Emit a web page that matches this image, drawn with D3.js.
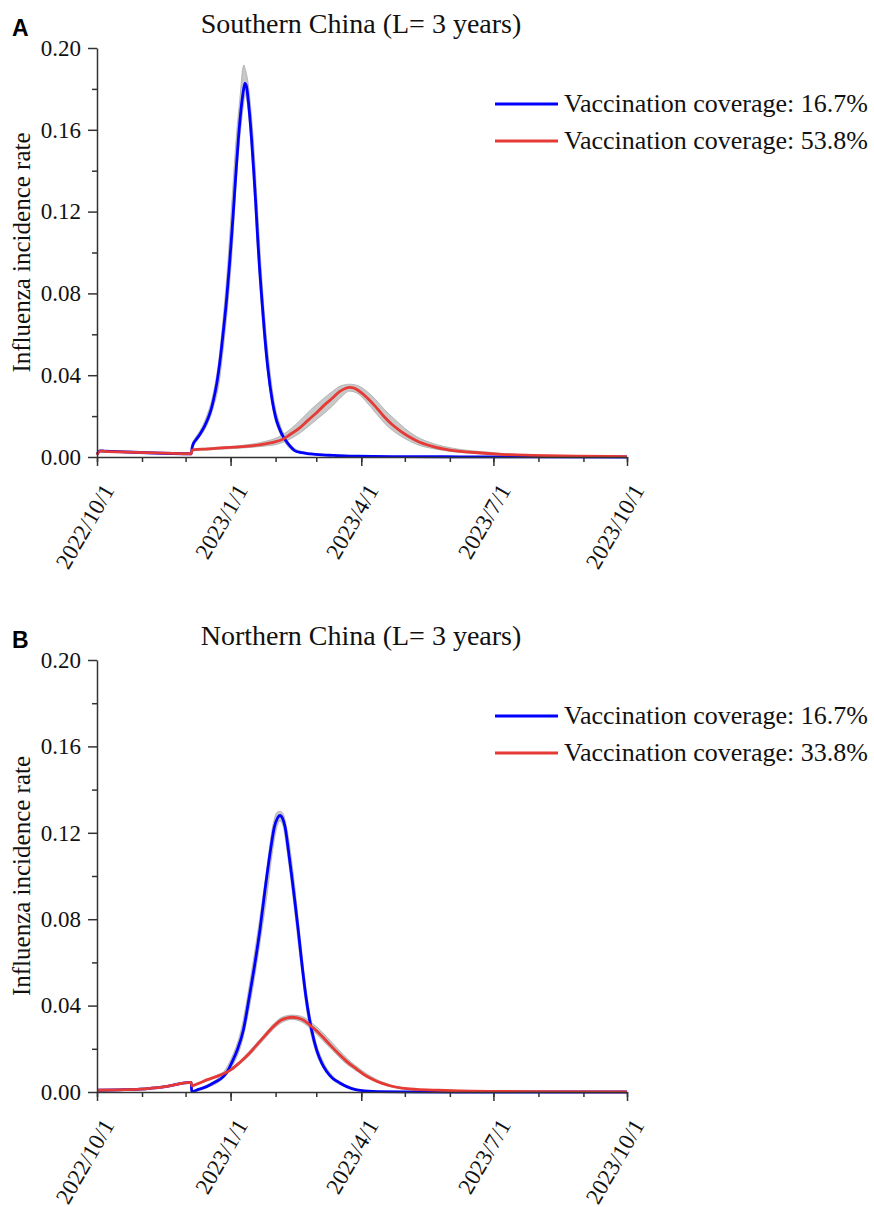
<!DOCTYPE html>
<html>
<head>
<meta charset="utf-8">
<script src="https://cdn.jsdelivr.net/npm/d3@7"></script>
<style>
  html, body { margin: 0; padding: 0; background: #fff; }
  svg { display: block; }
  svg text { font-family: "Liberation Serif", "Times New Roman", Times, serif !important; fill: #111; }
  svg text.letter { font-family: "Liberation Sans", Arial, sans-serif !important; font-weight: bold; fill: #000; }
</style>
</head>
<body>
<svg id="chart" width="874" height="1207"></svg>
<script>
// ---------------- DATA (days since 2022/10/1) ----------------
const xTickLabels = ["2022/10/1", "2023/1/1", "2023/4/1", "2023/7/1", "2023/10/1"];
const yTicks = [0.00, 0.04, 0.08, 0.12, 0.16, 0.20];
const yMinorTicks = [0.02, 0.06, 0.10, 0.14, 0.18];

// Panel A - Southern China
const titleA = "Southern China (L= 3 years)";
const legendA = ["Vaccination coverage: 16.7%", "Vaccination coverage: 53.8%"];
const daysBlueA = [0, 2, 5, 30, 64.9, 65.5, 66.5, 67.5, 69, 71, 74, 76.7, 78.5, 80.1, 82.5, 84.7, 87, 89.3, 91.1, 92.8, 93.9, 95.5, 97.3, 99.5, 101, 101.9, 103, 104.5, 106.5, 108, 109.2, 110.5, 111.9, 113.6, 115.4, 117.6, 120.7, 123.1, 125, 127.2, 131.7, 136.4, 141, 146.7, 155, 162.5, 180, 208, 250, 300, 365];
const blueA = [0.0013, 0.0030, 0.0029, 0.0022, 0.0016, 0.0045, 0.0068, 0.0078, 0.0092, 0.0113, 0.0150, 0.0193, 0.0230, 0.0275, 0.0360, 0.0470, 0.0615, 0.0775, 0.0928, 0.109, 0.1200, 0.1370, 0.155, 0.172, 0.180, 0.1827, 0.181, 0.172, 0.155, 0.139, 0.1255, 0.109, 0.0928, 0.0765, 0.0603, 0.0438, 0.0275, 0.0193, 0.0150, 0.0113, 0.0064, 0.0030, 0.0021, 0.0015, 0.0010, 0.0008, 0.0004, 0.0002, 0.0001, 0.00005, 0];
const daysBlueBandA = [66, 68, 71, 75, 80, 84, 87, 90, 93, 96, 98.5, 100.5, 101.2, 102, 104, 106, 108, 110.5, 113, 116, 119, 122, 126, 130, 136, 145, 160, 200];
const blueUpperA = [0.0075, 0.0098, 0.0130, 0.0190, 0.031, 0.048, 0.069, 0.094, 0.126, 0.157, 0.176, 0.1905, 0.1917, 0.190, 0.183, 0.170, 0.152, 0.122, 0.093, 0.064, 0.043, 0.027, 0.016, 0.0095, 0.0042, 0.0022, 0.0012, 0.0004];
const blueLowerA = [0.0050, 0.0072, 0.0100, 0.0145, 0.024, 0.036, 0.053, 0.074, 0.100, 0.135, 0.157, 0.170, 0.174, 0.177, 0.170, 0.153, 0.132, 0.101, 0.075, 0.050, 0.033, 0.020, 0.0115, 0.0065, 0.0027, 0.0014, 0.0007, 0.0002];

const daysRedA = [0, 1, 2.5, 5, 20, 40, 64.9, 65.5, 67, 75, 83, 95, 106, 115, 122, 128, 133, 140, 145, 151, 156, 162, 167, 171, 174, 177, 180, 186, 192, 197, 203, 209, 215, 220, 231, 243, 260, 278, 300, 330, 365];
const redA = [0.0010, 0.0022, 0.0029, 0.0028, 0.0024, 0.0020, 0.0016, 0.0034, 0.0036, 0.0039, 0.0043, 0.0048, 0.0054, 0.0063, 0.0073, 0.0087, 0.0110, 0.0145, 0.0178, 0.0215, 0.0250, 0.0287, 0.0320, 0.0335, 0.0340, 0.0337, 0.0325, 0.0290, 0.0245, 0.0203, 0.0160, 0.0127, 0.0099, 0.0080, 0.0052, 0.0034, 0.0022, 0.0013, 0.0008, 0.0004, 0.0002];
const daysRedBandA = [65.5, 80, 100, 115, 125, 133, 140, 147, 155, 162, 168, 174, 180, 186, 192, 198, 205, 212, 220, 232, 245, 265, 290];
const redUpperA = [0.0038, 0.0046, 0.0057, 0.0075, 0.0098, 0.0135, 0.0180, 0.0230, 0.0280, 0.0320, 0.0348, 0.0356, 0.0348, 0.0320, 0.0280, 0.0232, 0.0185, 0.0140, 0.0100, 0.0065, 0.0043, 0.0026, 0.0013];
const redLowerA = [0.0030, 0.0036, 0.0044, 0.0053, 0.0064, 0.0088, 0.0118, 0.0158, 0.0205, 0.0248, 0.0292, 0.0322, 0.0308, 0.0265, 0.0215, 0.0165, 0.0122, 0.0090, 0.0062, 0.0040, 0.0026, 0.0015, 0.0007];

// Panel B - Northern China
const titleB = "Northern China (L= 3 years)";
const legendB = ["Vaccination coverage: 16.7%", "Vaccination coverage: 33.8%"];
const daysBlueB = [0, 15, 29.6, 47, 64.9, 65.2, 70, 75.5, 81, 87, 90.4, 92.7, 96.6, 100.8, 104.9, 108.8, 112.3, 115.7, 119.6, 122.1, 124.3, 126, 127.7, 129.5, 131.8, 134, 136.4, 138.6, 141, 143.9, 147.8, 151.3, 154.8, 158.2, 162, 167.3, 172, 178.8, 190, 210, 250, 365];
const blueB = [0.0008, 0.0010, 0.0013, 0.0025, 0.0045, 0.0002, 0.0012, 0.0025, 0.0045, 0.0071, 0.0102, 0.0134, 0.0194, 0.0287, 0.0441, 0.0597, 0.0755, 0.0935, 0.1125, 0.1225, 0.1268, 0.128, 0.1268, 0.1228, 0.112, 0.1005, 0.0875, 0.0748, 0.0600, 0.0441, 0.0287, 0.0194, 0.0134, 0.0095, 0.0065, 0.0042, 0.0025, 0.0010, 0.0003, 0.0001, 0, 0];
const daysBlueBandB = [66, 75, 85, 92, 100, 106, 112, 117, 121, 124, 126, 128, 131, 135, 140, 145, 150, 156, 163, 172, 185];
const blueUpperB = [0.0006, 0.0030, 0.0075, 0.0148, 0.031, 0.054, 0.080, 0.104, 0.123, 0.1295, 0.1300, 0.129, 0.121, 0.102, 0.071, 0.043, 0.025, 0.0138, 0.0070, 0.0030, 0.0007];
const blueLowerB = [0.0003, 0.0020, 0.0052, 0.0106, 0.0235, 0.043, 0.068, 0.091, 0.112, 0.123, 0.1255, 0.1235, 0.111, 0.090, 0.061, 0.035, 0.020, 0.0108, 0.0053, 0.0021, 0.0004];

const daysRedB = [0, 15, 29.6, 47, 64.9, 65.3, 70, 75.5, 84, 91.6, 98, 104, 109, 114.5, 121, 127, 131, 134.4, 138, 142, 149, 155, 160.5, 167.3, 171.9, 178.8, 184, 190, 196, 201.8, 210, 220, 235, 250, 275, 300, 365];
const redB = [0.0008, 0.0010, 0.0013, 0.0025, 0.0045, 0.0028, 0.0040, 0.0056, 0.0076, 0.0100, 0.0135, 0.0172, 0.0210, 0.0252, 0.0300, 0.0333, 0.0343, 0.0346, 0.0343, 0.0333, 0.0296, 0.0258, 0.0218, 0.0171, 0.0142, 0.0106, 0.0080, 0.0058, 0.0041, 0.0029, 0.0018, 0.0012, 0.0008, 0.0005, 0.0003, 0.0002, 0.0001];
const daysRedBandB = [65.3, 80, 95, 105, 115, 122, 128, 134.4, 141, 148, 155, 162, 170, 180, 192, 205, 220];
const redUpperB = [0.0030, 0.0070, 0.0123, 0.0190, 0.0265, 0.0318, 0.0348, 0.0356, 0.0350, 0.0320, 0.0278, 0.0228, 0.0170, 0.0112, 0.0060, 0.0027, 0.0014];
const redLowerB = [0.0026, 0.0062, 0.0111, 0.0170, 0.0243, 0.0294, 0.0324, 0.0336, 0.0324, 0.0288, 0.0242, 0.0194, 0.0140, 0.0092, 0.0048, 0.0020, 0.0010];

// ---------------- HELPERS ----------------
const startMs = Date.UTC(2022, 9, 1);
const toDate = d => new Date(startMs + d * 864e5);
const zipLine = (days, vals) => days.map((d, i) => ({ t: toDate(d), v: vals[i] }));
const zipBand = (days, lo, hi) => days.map((d, i) => ({ t: toDate(d), lo: lo[i], hi: hi[i] }));

const BLUE = "#0000ff", RED = "#e53a35", AXIS = "#333";
const SERIF = "'Liberation Serif', 'Times New Roman', Times, serif";

const panels = [
  { letter: "A", title: titleA, legend: legendA, top: 48, bottom: 457,
    blue: zipLine(daysBlueA, blueA), red: zipLine(daysRedA, redA),
    blueBand: zipBand(daysBlueBandA, blueLowerA, blueUpperA),
    redBand: zipBand(daysRedBandA, redLowerA, redUpperA) },
  { letter: "B", title: titleB, legend: legendB, top: 660, bottom: 1092,
    blue: zipLine(daysBlueB, blueB), red: zipLine(daysRedB, redB),
    blueBand: zipBand(daysBlueBandB, blueLowerB, blueUpperB),
    redBand: zipBand(daysRedBandB, redLowerB, redUpperB) }
];

const svg = d3.select("#chart");
const left = 97, right = 627;
const x = d3.scaleUtc().domain([new Date(Date.UTC(2022, 9, 1)), new Date(Date.UTC(2023, 9, 1))]).range([left, right]);
const majorDates = [Date.UTC(2022,9,1), Date.UTC(2023,0,1), Date.UTC(2023,3,1), Date.UTC(2023,6,1), Date.UTC(2023,9,1)].map(d => new Date(d));
const minorDates = d3.utcMonth.range(new Date(Date.UTC(2022,9,1)), new Date(Date.UTC(2023,9,2)));

panels.forEach(p => {
  const g = svg.append("g");
  const y = d3.scaleLinear().domain([0, 0.2]).range([p.bottom, p.top]);

  const area = d3.area().x(d => x(d.t)).y0(d => y(d.lo)).y1(d => y(d.hi)).curve(d3.curveMonotoneX);
  [p.blueBand, p.redBand].forEach(b => {
    g.append("path").attr("d", area(b)).attr("fill", "#c8c8c8").attr("stroke", "#aaaaaa").attr("stroke-width", 0.8);
  });

  const line = d3.line().x(d => x(d.t)).y(d => y(d.v)).curve(d3.curveMonotoneX);
  g.append("path").attr("d", line(p.blue)).attr("fill", "none").attr("stroke", BLUE).attr("stroke-width", 2.8).attr("stroke-linejoin", "round");
  g.append("path").attr("d", line(p.red)).attr("fill", "none").attr("stroke", RED).attr("stroke-width", 2.8).attr("stroke-linejoin", "round");

  // x axis
  const xAxisMinor = g.append("g").attr("transform", `translate(0,${p.bottom})`)
    .call(d3.axisBottom(x).tickValues(minorDates).tickSize(5).tickSizeOuter(0).tickFormat(""));
  xAxisMinor.select(".domain").remove();
  const xAxis = g.append("g").attr("transform", `translate(0,${p.bottom})`)
    .call(d3.axisBottom(x).tickValues(majorDates).tickSize(9).tickSizeOuter(0).tickFormat(""));
  [xAxisMinor, xAxis].forEach(a => a.selectAll("line").attr("stroke", AXIS).attr("stroke-width", 1.5));
  xAxis.select(".domain").attr("stroke", AXIS).attr("stroke-width", 1.5);
  majorDates.forEach((d, i) => {
    g.append("text")
      .attr("transform", `translate(${x(d) + 18},${p.bottom + 33}) rotate(-60)`)
      .attr("text-anchor", "end")
      .style("font-family", SERIF).style("font-size", "23px")
      .text(xTickLabels[i]);
  });

  // y axis
  const yAxisMinor = g.append("g").attr("transform", `translate(${left},0)`)
    .call(d3.axisLeft(y).tickValues(yMinorTicks).tickSize(5).tickSizeOuter(0).tickFormat(""));
  yAxisMinor.select(".domain").remove();
  const yAxis = g.append("g").attr("transform", `translate(${left},0)`)
    .call(d3.axisLeft(y).tickValues(yTicks).tickSize(9).tickSizeOuter(0).tickPadding(7).tickFormat(d3.format(".2f")));
  yAxis.attr("font-family", SERIF).attr("font-size", 23);
  [yAxisMinor, yAxis].forEach(a => a.selectAll("line").attr("stroke", AXIS).attr("stroke-width", 1.5));
  yAxis.select(".domain").attr("stroke", AXIS).attr("stroke-width", 1.5);
  yAxis.selectAll("text").style("font-family", SERIF).style("font-size", "23px").attr("fill", "#111");

  g.append("text")
    .attr("transform", `translate(30,${(p.top + p.bottom) / 2}) rotate(-90)`)
    .attr("text-anchor", "middle")
    .style("font-family", SERIF).style("font-size", "25px")
    .text("Influenza incidence rate");

  g.append("text").attr("x", 361).attr("y", p.top - 15).attr("text-anchor", "middle")
    .style("font-family", SERIF).style("font-size", "28px").text(p.title);
  g.append("text").attr("class", "letter").attr("x", 12).attr("y", p.top - 12)
    .style("font-size", "23px").text(p.letter);

  const colors = [BLUE, RED];
  p.legend.forEach((t, i) => {
    const ly = p.top + 56 + i * 37;
    g.append("line").attr("x1", 495).attr("x2", 558).attr("y1", ly).attr("y2", ly)
      .attr("stroke", colors[i]).attr("stroke-width", 2.8);
    g.append("text").attr("x", 564).attr("y", ly + 8)
      .style("font-family", SERIF).style("font-size", "26px").text(t);
  });
});
</script>
</body>
</html>
